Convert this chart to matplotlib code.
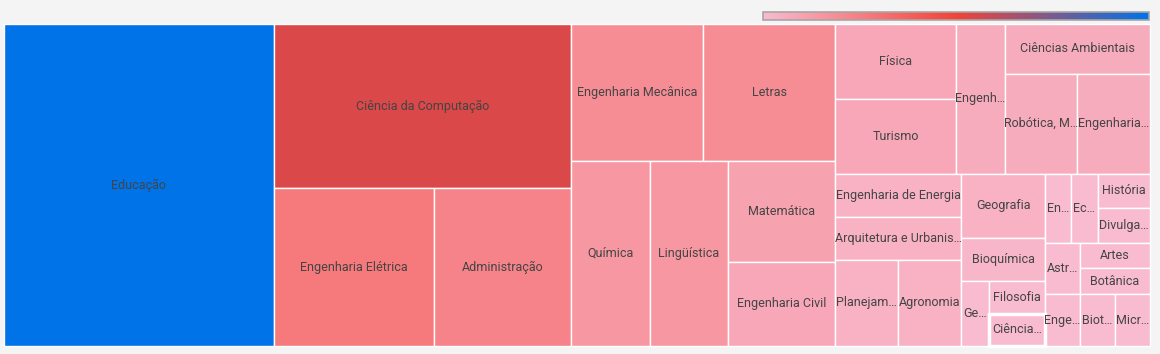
import matplotlib.pyplot as plt
from matplotlib.patches import Rectangle
from matplotlib.colors import LinearSegmentedColormap, Normalize
import numpy as np

plt.rcParams['font.family'] = ['Roboto', 'DejaVu Sans']

# labels as shown in the chart (long names are cut off there)
areas = ["Educação", "Ciência da Computação", "Engenharia Elétrica", "Administração",
         "Engenharia Mecânica", "Letras", "Química", "Lingüística", "Matemática",
         "Engenharia Civil", "Física", "Turismo", "Engenh…", "Ciências Ambientais",
         "Robótica, M…", "Engenharia…", "Engenharia de Energia", "Arquitetura e Urbanis…",
         "Planejam…", "Agronomia", "Geografia", "Bioquímica", "Ge…", "Filosofia",
         "Ciência…", "En…", "Ec…", "História", "Divulga…", "Astr…", "Enge…",
         "Artes", "Botânica", "Biot…", "Micr…"]
counts = [48, 27, 14, 12, 10, 10, 8, 8, 6, 5, 5, 5, 4, 4, 4, 4, 3, 3, 3, 3, 3, 2,
          1, 1, 1, 1, 1, 1, 1, 1, 1, 1, 1, 1, 1]
highlighted = "Ciência…"

# colour scale min -> mid -> max
cmap = LinearSegmentedColormap.from_list("pinkredblue", ["#f8bbd0", "#f44336", "#0073e9"])
norm = Normalize(vmin=min(counts), vmax=max(counts))


# binary split treemap: first part grows while it stays under half of the total,
# the cut goes across the longer side
def split(vals, x, y, w, h):
    if len(vals) == 1:
        return [(x, y, w, h)]
    total = sum(vals)
    k, acc = 1, vals[0]
    while k < len(vals) - 1 and acc + vals[k] < total / 2:
        acc += vals[k]
        k += 1
    if w >= h:
        w1 = w * acc / total
        return split(vals[:k], x, y, w1, h) + split(vals[k:], x + w1, y, w - w1, h)
    h1 = h * acc / total
    return split(vals[:k], x, y, w, h1) + split(vals[k:], x, y + h1, w, h - h1)


fig = plt.figure(figsize=(11.6, 3.54), dpi=100, facecolor="#f4f4f4")
ax = fig.add_axes([0, 0, 1, 1])
ax.set_facecolor("#f4f4f4")

rects = split(counts, 4, 24, 1146, 322)
for name, val, (x, y, w, h) in zip(areas, counts, rects):
    lw = 2.5 if name == highlighted else 1.0
    ax.add_patch(Rectangle((x, y), w, h, facecolor=cmap(norm(val)),
                           edgecolor="white", linewidth=lw,
                           zorder=3 if name == highlighted else 2))
    ax.text(x + w / 2, y + h / 2, name, ha="center", va="center",
            fontsize=9, color="#444444", zorder=4)

# colour legend bar
grad = np.linspace(0, 1, 256).reshape(1, -1)
ax.imshow(grad, cmap=cmap, extent=(763, 1149, 20, 12), aspect="auto", zorder=2)
ax.add_patch(Rectangle((763, 12), 386, 8, fill=False, edgecolor="#a6a6a6",
                       linewidth=1.2, zorder=3))

ax.set_xlim(0, 1160)
ax.set_ylim(354, 0)
ax.axis("off")

fig.savefig("out.png", dpi=100, facecolor=fig.get_facecolor())
